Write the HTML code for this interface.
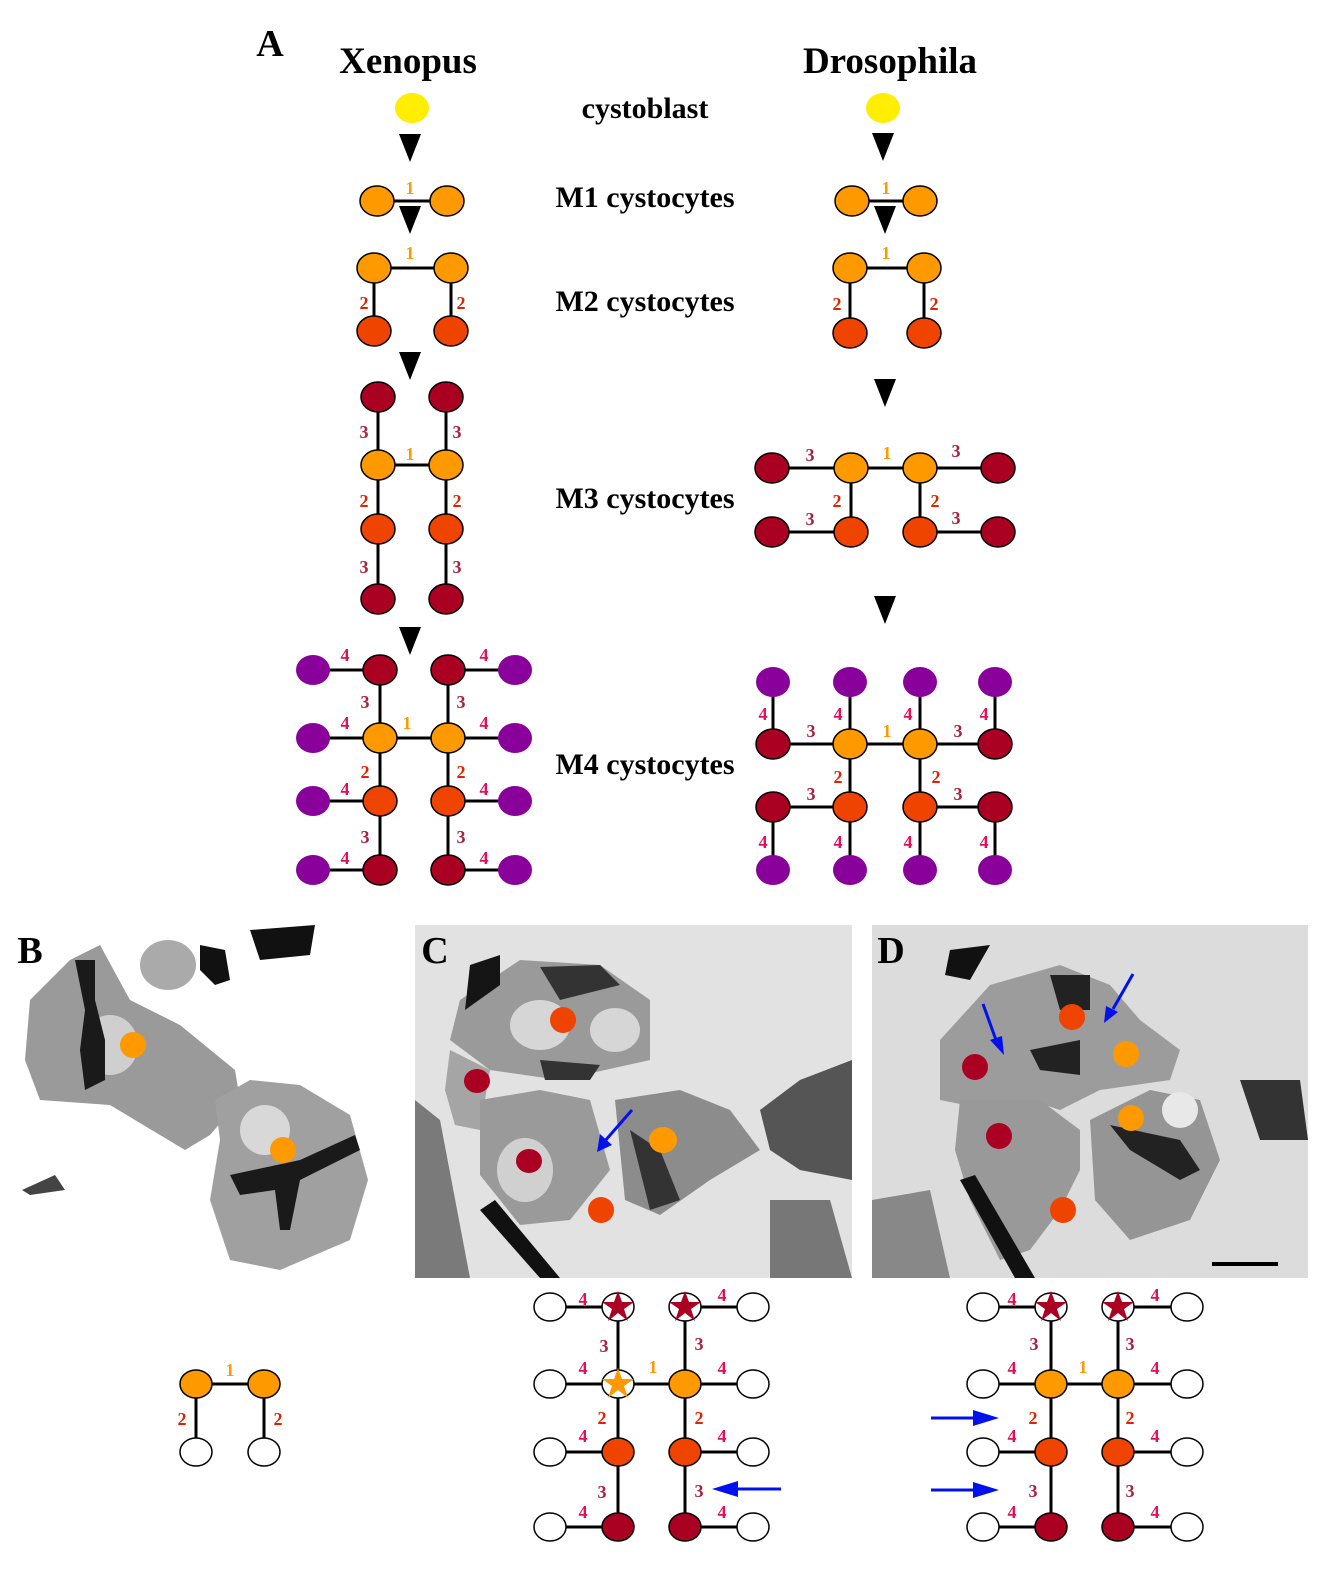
<!DOCTYPE html>
<html><head><meta charset="utf-8"><style>
html,body{margin:0;padding:0;background:#fff}
svg{display:block}
text{font-family:"Liberation Serif",serif;font-weight:bold}
.t{font-size:37px;text-anchor:middle}
.l{font-size:30px;text-anchor:middle}
.n{font-size:18px;text-anchor:middle}
.c1{fill:#ff9900}.c2{fill:#e02200}.c3{fill:#a8213f}.c4{fill:#e0105a}
.Y{fill:#ffee00}.O{fill:#ff9900;stroke:#000;stroke-width:1.5}.R{fill:#ee4400;stroke:#000;stroke-width:1.5}
.D{fill:#aa0022;stroke:#000;stroke-width:1.5}.P{fill:#880099}.W{fill:#fff;stroke:#000;stroke-width:1.5}
.k{stroke:#000;stroke-width:3}
.o2{fill:#ff9900}.r2{fill:#ee4400}.d2{fill:#aa0022}
</style></head><body>
<svg width="1328" height="1572" viewBox="0 0 1328 1572" xmlns="http://www.w3.org/2000/svg">
<text x="270" y="56" style="font-size:38px" text-anchor="middle">A</text>
<text class="t" x="408" y="73">Xenopus</text>
<text class="t" x="890" y="73">Drosophila</text>
<text class="l" x="645" y="118">cystoblast</text>
<text class="l" x="645" y="207">M1 cystocytes</text>
<text class="l" x="645" y="311">M2 cystocytes</text>
<text class="l" x="645" y="508">M3 cystocytes</text>
<text class="l" x="645" y="774">M4 cystocytes</text>

<g fill="#000">
<polygon points="399,134 421,134 410,162"/>
<polygon points="399,206 421,206 410,234"/>
<polygon points="399,352 421,352 410,380"/>
<polygon points="399,627 421,627 410,655"/>
<polygon points="872,133 894,133 883,161"/>
<polygon points="874,206 896,206 885,234"/>
<polygon points="874,379 896,379 885,407"/>
<polygon points="874,596 896,596 885,624"/>
</g>

<ellipse class="Y" cx="412" cy="108" rx="17" ry="15"/>
<line class="k" x1="377" y1="201" x2="447" y2="201"/>
<ellipse class="O" cx="377" cy="201" rx="17" ry="15"/><ellipse class="O" cx="447" cy="201" rx="17" ry="15"/>
<text class="n c1" x="410" y="194">1</text>

<line class="k" x1="374" y1="268" x2="451" y2="268"/><line class="k" x1="374" y1="268" x2="374" y2="331"/><line class="k" x1="451" y1="268" x2="451" y2="331"/>
<ellipse class="O" cx="374" cy="268" rx="17" ry="15"/><ellipse class="O" cx="451" cy="268" rx="17" ry="15"/>
<ellipse class="R" cx="374" cy="331" rx="17" ry="15"/><ellipse class="R" cx="451" cy="331" rx="17" ry="15"/>
<text class="n c1" x="410" y="259">1</text><text class="n c2" x="364" y="309">2</text><text class="n c2" x="461" y="309">2</text>

<line class="k" x1="378" y1="397" x2="378" y2="599"/><line class="k" x1="446" y1="397" x2="446" y2="599"/><line class="k" x1="378" y1="465" x2="446" y2="465"/>
<ellipse class="D" cx="378" cy="397" rx="17" ry="15"/><ellipse class="D" cx="446" cy="397" rx="17" ry="15"/>
<ellipse class="O" cx="378" cy="465" rx="17" ry="15"/><ellipse class="O" cx="446" cy="465" rx="17" ry="15"/>
<ellipse class="R" cx="378" cy="529" rx="17" ry="15"/><ellipse class="R" cx="446" cy="529" rx="17" ry="15"/>
<ellipse class="D" cx="378" cy="599" rx="17" ry="15"/><ellipse class="D" cx="446" cy="599" rx="17" ry="15"/>
<text class="n c3" x="364" y="438">3</text><text class="n c3" x="457" y="438">3</text>
<text class="n c1" x="410" y="460">1</text>
<text class="n c2" x="364" y="507">2</text><text class="n c2" x="457" y="507">2</text>
<text class="n c3" x="364" y="573">3</text><text class="n c3" x="457" y="573">3</text>

<g>
<line class="k" x1="380" y1="670" x2="380" y2="870"/><line class="k" x1="448" y1="670" x2="448" y2="870"/><line class="k" x1="380" y1="738" x2="448" y2="738"/>
<line class="k" x1="313" y1="670" x2="380" y2="670"/><line class="k" x1="313" y1="738" x2="380" y2="738"/><line class="k" x1="313" y1="801" x2="380" y2="801"/><line class="k" x1="313" y1="870" x2="380" y2="870"/>
<line class="k" x1="448" y1="670" x2="515" y2="670"/><line class="k" x1="448" y1="738" x2="515" y2="738"/><line class="k" x1="448" y1="801" x2="515" y2="801"/><line class="k" x1="448" y1="870" x2="515" y2="870"/>
<ellipse class="P" cx="313" cy="670" rx="17" ry="15"/><ellipse class="P" cx="313" cy="738" rx="17" ry="15"/><ellipse class="P" cx="313" cy="801" rx="17" ry="15"/><ellipse class="P" cx="313" cy="870" rx="17" ry="15"/>
<ellipse class="P" cx="515" cy="670" rx="17" ry="15"/><ellipse class="P" cx="515" cy="738" rx="17" ry="15"/><ellipse class="P" cx="515" cy="801" rx="17" ry="15"/><ellipse class="P" cx="515" cy="870" rx="17" ry="15"/>
<ellipse class="D" cx="380" cy="670" rx="17" ry="15"/><ellipse class="D" cx="448" cy="670" rx="17" ry="15"/>
<ellipse class="O" cx="380" cy="738" rx="17" ry="15"/><ellipse class="O" cx="448" cy="738" rx="17" ry="15"/>
<ellipse class="R" cx="380" cy="801" rx="17" ry="15"/><ellipse class="R" cx="448" cy="801" rx="17" ry="15"/>
<ellipse class="D" cx="380" cy="870" rx="17" ry="15"/><ellipse class="D" cx="448" cy="870" rx="17" ry="15"/>
<text class="n c4" x="345" y="661">4</text><text class="n c4" x="345" y="729">4</text><text class="n c4" x="345" y="795">4</text><text class="n c4" x="345" y="864">4</text>
<text class="n c4" x="484" y="661">4</text><text class="n c4" x="484" y="729">4</text><text class="n c4" x="484" y="795">4</text><text class="n c4" x="484" y="864">4</text>
<text class="n c3" x="365" y="708">3</text><text class="n c3" x="461" y="708">3</text>
<text class="n c1" x="407" y="729">1</text>
<text class="n c2" x="365" y="778">2</text><text class="n c2" x="461" y="778">2</text>
<text class="n c3" x="365" y="843">3</text><text class="n c3" x="461" y="843">3</text>
</g>

<ellipse class="Y" cx="883" cy="108" rx="17" ry="15"/>
<line class="k" x1="852" y1="201" x2="920" y2="201"/>
<ellipse class="O" cx="852" cy="201" rx="17" ry="15"/><ellipse class="O" cx="920" cy="201" rx="17" ry="15"/>
<text class="n c1" x="886" y="194">1</text>
<line class="k" x1="850" y1="268" x2="924" y2="268"/><line class="k" x1="850" y1="268" x2="850" y2="333"/><line class="k" x1="924" y1="268" x2="924" y2="333"/>
<ellipse class="O" cx="850" cy="268" rx="17" ry="15"/><ellipse class="O" cx="924" cy="268" rx="17" ry="15"/>
<ellipse class="R" cx="850" cy="333" rx="17" ry="15"/><ellipse class="R" cx="924" cy="333" rx="17" ry="15"/>
<text class="n c1" x="886" y="259">1</text><text class="n c2" x="837" y="310">2</text><text class="n c2" x="934" y="310">2</text>

<line class="k" x1="772" y1="468" x2="998" y2="468"/><line class="k" x1="772" y1="532" x2="851" y2="532"/><line class="k" x1="920" y1="532" x2="998" y2="532"/>
<line class="k" x1="851" y1="468" x2="851" y2="532"/><line class="k" x1="920" y1="468" x2="920" y2="532"/>
<ellipse class="D" cx="772" cy="468" rx="17" ry="15"/><ellipse class="O" cx="851" cy="468" rx="17" ry="15"/><ellipse class="O" cx="920" cy="468" rx="17" ry="15"/><ellipse class="D" cx="998" cy="468" rx="17" ry="15"/>
<ellipse class="D" cx="772" cy="532" rx="17" ry="15"/><ellipse class="R" cx="851" cy="532" rx="17" ry="15"/><ellipse class="R" cx="920" cy="532" rx="17" ry="15"/><ellipse class="D" cx="998" cy="532" rx="17" ry="15"/>
<text class="n c3" x="810" y="461">3</text><text class="n c1" x="887" y="459">1</text><text class="n c3" x="956" y="457">3</text>
<text class="n c2" x="837" y="507">2</text><text class="n c2" x="935" y="507">2</text>
<text class="n c3" x="810" y="525">3</text><text class="n c3" x="956" y="524">3</text>

<line class="k" x1="773" y1="744" x2="995" y2="744"/><line class="k" x1="773" y1="807" x2="850" y2="807"/><line class="k" x1="920" y1="807" x2="995" y2="807"/>
<line class="k" x1="773" y1="682" x2="773" y2="744"/><line class="k" x1="850" y1="682" x2="850" y2="870"/><line class="k" x1="920" y1="682" x2="920" y2="870"/><line class="k" x1="995" y1="682" x2="995" y2="744"/>
<line class="k" x1="773" y1="807" x2="773" y2="870"/><line class="k" x1="995" y1="807" x2="995" y2="870"/>
<ellipse class="P" cx="773" cy="682" rx="17" ry="15"/><ellipse class="P" cx="850" cy="682" rx="17" ry="15"/><ellipse class="P" cx="920" cy="682" rx="17" ry="15"/><ellipse class="P" cx="995" cy="682" rx="17" ry="15"/>
<ellipse class="D" cx="773" cy="744" rx="17" ry="15"/><ellipse class="O" cx="850" cy="744" rx="17" ry="15"/><ellipse class="O" cx="920" cy="744" rx="17" ry="15"/><ellipse class="D" cx="995" cy="744" rx="17" ry="15"/>
<ellipse class="D" cx="773" cy="807" rx="17" ry="15"/><ellipse class="R" cx="850" cy="807" rx="17" ry="15"/><ellipse class="R" cx="920" cy="807" rx="17" ry="15"/><ellipse class="D" cx="995" cy="807" rx="17" ry="15"/>
<ellipse class="P" cx="773" cy="870" rx="17" ry="15"/><ellipse class="P" cx="850" cy="870" rx="17" ry="15"/><ellipse class="P" cx="920" cy="870" rx="17" ry="15"/><ellipse class="P" cx="995" cy="870" rx="17" ry="15"/>
<text class="n c4" x="763" y="720">4</text><text class="n c4" x="838" y="720">4</text><text class="n c4" x="908" y="720">4</text><text class="n c4" x="984" y="720">4</text>
<text class="n c3" x="811" y="737">3</text><text class="n c1" x="887" y="737">1</text><text class="n c3" x="958" y="737">3</text>
<text class="n c2" x="838" y="783">2</text><text class="n c2" x="936" y="783">2</text>
<text class="n c3" x="811" y="800">3</text><text class="n c3" x="958" y="800">3</text>
<text class="n c4" x="763" y="848">4</text><text class="n c4" x="838" y="848">4</text><text class="n c4" x="908" y="848">4</text><text class="n c4" x="984" y="848">4</text>

<g>
<path d="M30,1000 L70,960 L100,945 L130,1000 L180,1025 L235,1070 L240,1100 L210,1135 L185,1150 L110,1105 L40,1100 L25,1060 Z" fill="#9a9a9a"/>
<path d="M215,1100 L250,1080 L300,1085 L350,1115 L368,1180 L350,1240 L280,1270 L230,1260 L210,1200 L220,1140 Z" fill="#a0a0a0"/>
<ellipse cx="265" cy="1130" rx="25" ry="25" fill="#d8d8d8"/>
<ellipse cx="110" cy="1045" rx="28" ry="30" fill="#cfcfcf"/>
<ellipse cx="168" cy="965" rx="28" ry="25" fill="#aaa"/>
<path d="M200,945 L225,950 L230,980 L215,985 L200,970Z" fill="#111"/>
<path d="M250,930 L315,925 L310,955 L260,960Z" fill="#111"/>
<path d="M75,960 L95,960 L95,1000 L105,1040 L105,1080 L85,1090 L80,1050 L85,1010 Z" fill="#1a1a1a"/>
<path d="M230,1175 L300,1160 L355,1135 L360,1150 L300,1180 L290,1230 L280,1230 L275,1190 L240,1195 Z" fill="#1a1a1a"/>
<path d="M22,1190 L55,1175 L65,1190 L30,1195Z" fill="#444"/>
<circle cx="133" cy="1045" r="13" class="o2"/>
<circle cx="283" cy="1150" r="13" class="o2"/>
<text x="30" y="963" style="font-size:38px" text-anchor="middle">B</text>
</g>

<g>
<rect x="415" y="925" width="437" height="353" fill="#e2e2e2"/>
<path d="M460,1000 L520,960 L600,965 L650,1000 L650,1060 L560,1080 L490,1070 L450,1040 Z" fill="#9a9a9a"/>
<ellipse cx="540" cy="1025" rx="30" ry="25" fill="#d6d6d6"/><ellipse cx="615" cy="1030" rx="25" ry="22" fill="#d6d6d6"/>
<path d="M450,1050 L490,1070 L480,1130 L455,1125 L445,1090Z" fill="#a5a5a5"/>
<path d="M480,1100 L540,1090 L590,1100 L610,1170 L570,1220 L520,1225 L480,1175 Z" fill="#9a9a9a"/>
<ellipse cx="525" cy="1170" rx="28" ry="32" fill="#d0d0d0"/>
<path d="M615,1100 L680,1090 L730,1110 L760,1150 L710,1180 L660,1215 L625,1200 L620,1150Z" fill="#8c8c8c"/>
<path d="M760,1110 L800,1080 L852,1060 L852,1180 L800,1170 L770,1150Z" fill="#555"/>
<path d="M540,967 L600,965 L620,985 L560,1000Z" fill="#333"/>
<path d="M540,1060 L600,1065 L590,1080 L545,1080Z" fill="#333"/>
<path d="M470,965 L500,955 L500,985 L465,1010 Z" fill="#151515"/>
<path d="M480,1210 L495,1200 L560,1278 L540,1278 Z" fill="#111"/>
<path d="M415,1100 L440,1120 L470,1278 L415,1278Z" fill="#7a7a7a"/>
<path d="M770,1200 L830,1200 L852,1278 L770,1278Z" fill="#777"/>
<path d="M630,1130 L660,1150 L680,1200 L650,1210 L640,1170Z" fill="#333"/>
<circle cx="563" cy="1020" r="13" class="r2"/>
<ellipse cx="477" cy="1081" rx="13" ry="12" class="d2"/>
<ellipse cx="529" cy="1161" rx="13" ry="12" class="d2"/>
<circle cx="601" cy="1210" r="13" class="r2"/>
<ellipse cx="663" cy="1140" rx="14" ry="13" class="o2"/>
<line x1="632" y1="1110" x2="604" y2="1142" stroke="#0011ee" stroke-width="3"/>
<polygon points="597,1152 600,1134 612,1145" fill="#0011ee"/>
<text x="435" y="963" style="font-size:38px" text-anchor="middle">C</text>
</g>

<g>
<rect x="872" y="925" width="436" height="353" fill="#dcdcdc"/>
<path d="M940,1040 L990,985 L1060,965 L1110,985 L1140,1020 L1180,1050 L1170,1080 L1100,1090 L1060,1110 L1030,1100 L990,1110 L940,1100 Z" fill="#9c9c9c"/>
<path d="M960,1100 L1040,1100 L1080,1130 L1080,1170 L1060,1210 L1030,1250 L1000,1260 L970,1200 L955,1150Z" fill="#999"/>
<path d="M1090,1120 L1150,1090 L1200,1100 L1220,1160 L1190,1220 L1130,1240 L1095,1200Z" fill="#959595"/>
<ellipse cx="1180" cy="1110" rx="18" ry="18" fill="#e8e8e8"/>
<path d="M1050,975 L1090,975 L1090,1010 L1060,1010Z" fill="#222"/>
<path d="M1030,1050 L1080,1040 L1080,1075 L1040,1070Z" fill="#222"/>
<path d="M1110,1125 L1180,1140 L1200,1170 L1180,1180 L1130,1150Z" fill="#222"/>
<path d="M950,950 L990,945 L970,980 L945,975Z" fill="#111"/>
<path d="M960,1180 L975,1175 L1035,1278 L1015,1278Z" fill="#111"/>
<path d="M872,1200 L930,1190 L950,1278 L872,1278Z" fill="#888"/>
<path d="M1240,1080 L1300,1080 L1308,1140 L1260,1140Z" fill="#333"/>
<rect x="1212" y="1262" width="66" height="4" fill="#000"/>
<circle cx="1072" cy="1017" r="13" class="r2"/>
<circle cx="1126" cy="1054" r="13" class="o2"/>
<circle cx="975" cy="1067" r="13" class="d2"/>
<circle cx="999" cy="1136" r="13" class="d2"/>
<circle cx="1131" cy="1118" r="13" class="o2"/>
<circle cx="1063" cy="1210" r="13" class="r2"/>
<line x1="983" y1="1004" x2="996" y2="1040" stroke="#0011ee" stroke-width="3"/>
<polygon points="1004,1055 990,1040 1002,1036" fill="#0011ee"/>
<line x1="1133" y1="974" x2="1113" y2="1009" stroke="#0011ee" stroke-width="3"/>
<polygon points="1104,1023 1106,1006 1118,1012" fill="#0011ee"/>
<text x="891" y="963" style="font-size:38px" text-anchor="middle">D</text>
</g>

<line class="k" x1="196" y1="1384" x2="264" y2="1384"/><line class="k" x1="196" y1="1384" x2="196" y2="1452"/><line class="k" x1="264" y1="1384" x2="264" y2="1452"/>
<ellipse class="O" cx="196" cy="1384" rx="16" ry="14"/><ellipse class="O" cx="264" cy="1384" rx="16" ry="14"/>
<ellipse class="W" cx="196" cy="1452" rx="16" ry="14"/><ellipse class="W" cx="264" cy="1452" rx="16" ry="14"/>
<text class="n c1" x="230" y="1376">1</text><text class="n c2" x="182" y="1425">2</text><text class="n c2" x="278" y="1425">2</text>

<g>
<line class="k" x1="618" y1="1307" x2="618" y2="1527"/><line class="k" x1="685" y1="1307" x2="685" y2="1527"/>
<line class="k" x1="550" y1="1307" x2="618" y2="1307"/><line class="k" x1="550" y1="1384" x2="753" y2="1384"/><line class="k" x1="550" y1="1452" x2="618" y2="1452"/><line class="k" x1="550" y1="1527" x2="618" y2="1527"/>
<line class="k" x1="685" y1="1307" x2="753" y2="1307"/><line class="k" x1="685" y1="1452" x2="753" y2="1452"/><line class="k" x1="685" y1="1527" x2="753" y2="1527"/>
<ellipse class="W" cx="550" cy="1307" rx="16" ry="14"/><ellipse class="W" cx="550" cy="1384" rx="16" ry="14"/><ellipse class="W" cx="550" cy="1452" rx="16" ry="14"/><ellipse class="W" cx="550" cy="1527" rx="16" ry="14"/>
<ellipse class="W" cx="753" cy="1307" rx="16" ry="14"/><ellipse class="W" cx="753" cy="1384" rx="16" ry="14"/><ellipse class="W" cx="753" cy="1452" rx="16" ry="14"/><ellipse class="W" cx="753" cy="1527" rx="16" ry="14"/>
<ellipse class="W" cx="618" cy="1307" rx="16" ry="14"/><ellipse class="W" cx="685" cy="1307" rx="16" ry="14"/><ellipse class="W" cx="618" cy="1384" rx="16" ry="14"/>
<polygon fill="#aa0022" points="618,1291 622,1302 634,1302 624,1309 628,1321 618,1313 608,1321 612,1309 602,1302 614,1302"/>
<polygon fill="#aa0022" points="685,1291 689,1302 701,1302 691,1309 695,1321 685,1313 675,1321 679,1309 669,1302 681,1302"/>
<polygon fill="#ff9900" points="618,1368 622,1379 634,1379 624,1386 628,1398 618,1390 608,1398 612,1386 602,1379 614,1379"/>
<ellipse class="O" cx="685" cy="1384" rx="16" ry="14"/>
<ellipse class="R" cx="618" cy="1452" rx="16" ry="14"/><ellipse class="R" cx="685" cy="1452" rx="16" ry="14"/>
<ellipse class="D" cx="618" cy="1527" rx="16" ry="14"/><ellipse class="D" cx="685" cy="1527" rx="16" ry="14"/>
<text class="n c4" x="583" y="1305">4</text><text class="n c4" x="722" y="1301">4</text>
<text class="n c3" x="604" y="1352">3</text><text class="n c3" x="699" y="1350">3</text>
<text class="n c4" x="583" y="1374">4</text><text class="n c1" x="653" y="1373">1</text><text class="n c4" x="722" y="1374">4</text>
<text class="n c2" x="602" y="1424">2</text><text class="n c2" x="699" y="1424">2</text>
<text class="n c4" x="583" y="1442">4</text><text class="n c4" x="722" y="1442">4</text>
<text class="n c3" x="602" y="1498">3</text><text class="n c3" x="699" y="1497">3</text>
<text class="n c4" x="583" y="1518">4</text><text class="n c4" x="722" y="1518">4</text>
<line x1="735" y1="1489" x2="781" y2="1489" stroke="#0011ee" stroke-width="3"/>
<polygon points="712,1489 738,1481 738,1497" fill="#0011ee"/>
</g>

<g>
<line class="k" x1="1051" y1="1307" x2="1051" y2="1527"/><line class="k" x1="1118" y1="1307" x2="1118" y2="1527"/>
<line class="k" x1="983" y1="1307" x2="1051" y2="1307"/><line class="k" x1="983" y1="1384" x2="1187" y2="1384"/><line class="k" x1="983" y1="1452" x2="1051" y2="1452"/><line class="k" x1="983" y1="1527" x2="1051" y2="1527"/>
<line class="k" x1="1118" y1="1307" x2="1187" y2="1307"/><line class="k" x1="1118" y1="1452" x2="1187" y2="1452"/><line class="k" x1="1118" y1="1527" x2="1187" y2="1527"/>
<ellipse class="W" cx="983" cy="1307" rx="16" ry="14"/><ellipse class="W" cx="983" cy="1384" rx="16" ry="14"/><ellipse class="W" cx="983" cy="1452" rx="16" ry="14"/><ellipse class="W" cx="983" cy="1527" rx="16" ry="14"/>
<ellipse class="W" cx="1187" cy="1307" rx="16" ry="14"/><ellipse class="W" cx="1187" cy="1384" rx="16" ry="14"/><ellipse class="W" cx="1187" cy="1452" rx="16" ry="14"/><ellipse class="W" cx="1187" cy="1527" rx="16" ry="14"/>
<ellipse class="W" cx="1051" cy="1307" rx="16" ry="14"/><ellipse class="W" cx="1118" cy="1307" rx="16" ry="14"/>
<polygon fill="#aa0022" points="1051,1291 1055,1302 1067,1302 1057,1309 1061,1321 1051,1313 1041,1321 1045,1309 1035,1302 1047,1302"/>
<polygon fill="#aa0022" points="1118,1291 1122,1302 1134,1302 1124,1309 1128,1321 1118,1313 1108,1321 1112,1309 1102,1302 1114,1302"/>
<ellipse class="O" cx="1051" cy="1384" rx="16" ry="14"/><ellipse class="O" cx="1118" cy="1384" rx="16" ry="14"/>
<ellipse class="R" cx="1051" cy="1452" rx="16" ry="14"/><ellipse class="R" cx="1118" cy="1452" rx="16" ry="14"/>
<ellipse class="D" cx="1051" cy="1527" rx="16" ry="14"/><ellipse class="D" cx="1118" cy="1527" rx="16" ry="14"/>
<text class="n c4" x="1012" y="1305">4</text><text class="n c4" x="1155" y="1301">4</text>
<text class="n c3" x="1034" y="1350">3</text><text class="n c3" x="1130" y="1350">3</text>
<text class="n c4" x="1012" y="1374">4</text><text class="n c1" x="1083" y="1373">1</text><text class="n c4" x="1155" y="1374">4</text>
<text class="n c2" x="1033" y="1424">2</text><text class="n c2" x="1130" y="1424">2</text>
<text class="n c4" x="1012" y="1442">4</text><text class="n c4" x="1155" y="1442">4</text>
<text class="n c3" x="1033" y="1497">3</text><text class="n c3" x="1130" y="1497">3</text>
<text class="n c4" x="1012" y="1518">4</text><text class="n c4" x="1155" y="1518">4</text>
<line x1="931" y1="1418" x2="976" y2="1418" stroke="#0011ee" stroke-width="3"/>
<polygon points="999,1418 973,1410 973,1426" fill="#0011ee"/>
<line x1="931" y1="1490" x2="976" y2="1490" stroke="#0011ee" stroke-width="3"/>
<polygon points="999,1490 973,1482 973,1498" fill="#0011ee"/>
</g>
</svg>
</body></html>
